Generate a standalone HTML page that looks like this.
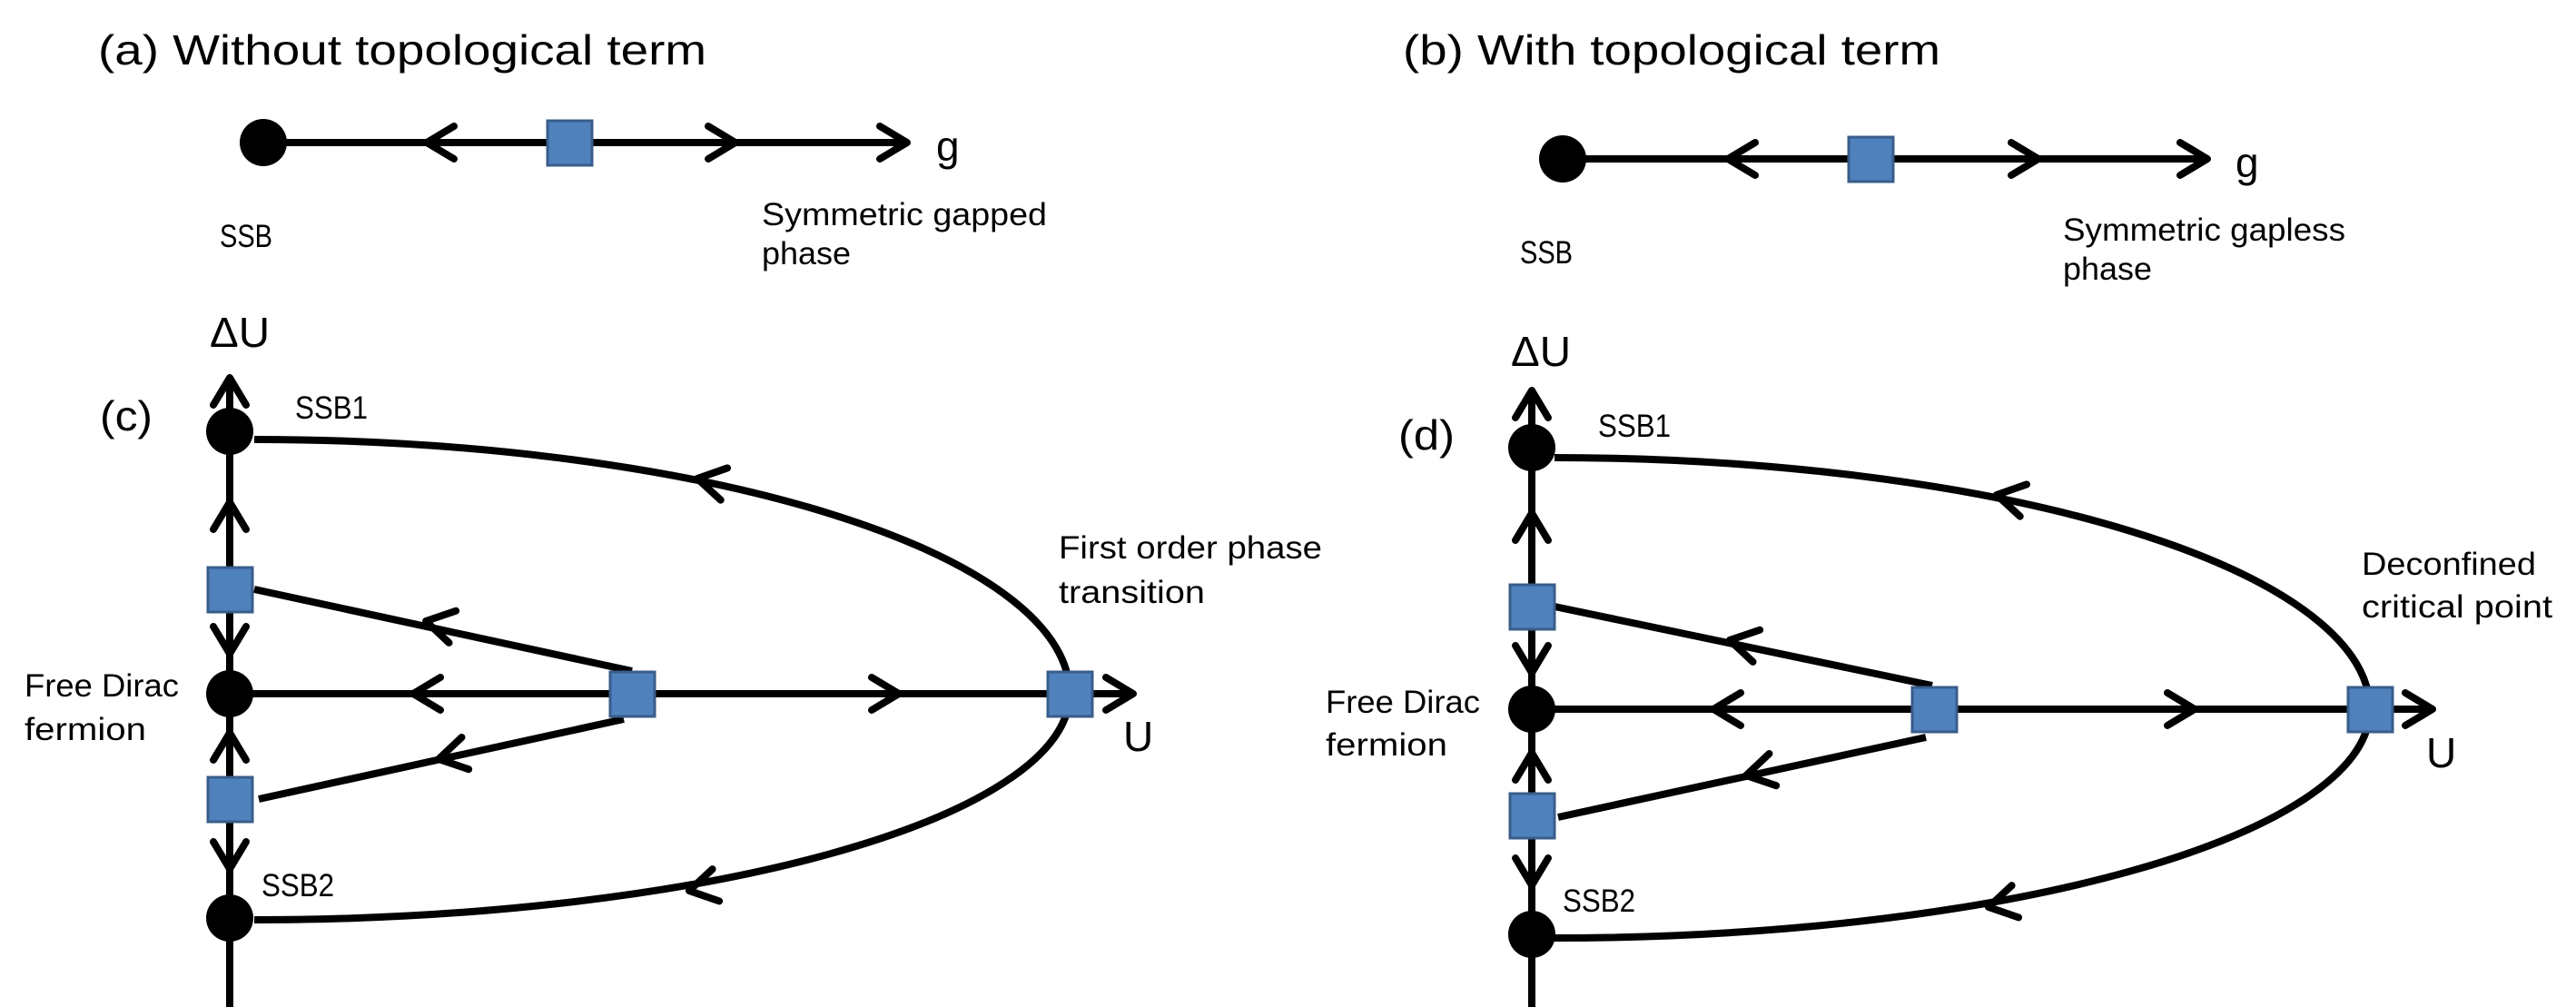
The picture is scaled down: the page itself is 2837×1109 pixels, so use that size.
<!DOCTYPE html>
<html><head><meta charset="utf-8"><style>
html,body{margin:0;padding:0;background:#fff;}
svg{display:block;}
text{font-family:"Liberation Sans",sans-serif;fill:#000;}
</style></head><body>
<svg width="2837" height="1109" viewBox="0 0 2837 1109" xmlns="http://www.w3.org/2000/svg">
<defs>
<polyline id="ch" points="-30,-18 0,0 -30,18" fill="none" stroke="#000" stroke-width="8" stroke-linecap="round" stroke-linejoin="round"/>
</defs>
<g stroke="#000" stroke-width="8" fill="none">
<!-- (a) -->
<line x1="290" y1="157" x2="995" y2="157"/>
<!-- (b) -->
<line x1="1721" y1="175" x2="2427" y2="175"/>
<!-- (c) -->
<line x1="253" y1="420" x2="253" y2="1109"/>
<line x1="253" y1="764" x2="1244" y2="764"/>
<line x1="280" y1="649" x2="696" y2="739"/>
<line x1="285" y1="880" x2="687" y2="792"/>
<path d="M280,484 A898,280 0 0 1 1178,764 A898,249 0 0 1 280,1013"/>
<!-- (d) -->
<line x1="1687" y1="434" x2="1687" y2="1109"/>
<line x1="1687" y1="781" x2="2675" y2="781"/>
<line x1="1712" y1="668" x2="2128" y2="755"/>
<line x1="1716" y1="900" x2="2121" y2="812"/>
<path d="M1712,504 A898,277 0 0 1 2610,781 A898,252 0 0 1 1712,1033"/>
</g>
<!-- chevrons -->
<use href="#ch" transform="translate(470,157) rotate(180)"/>
<use href="#ch" transform="translate(810,157)"/>
<use href="#ch" transform="translate(999,157)"/>
<use href="#ch" transform="translate(1903,175) rotate(180)"/>
<use href="#ch" transform="translate(2245,175)"/>
<use href="#ch" transform="translate(2431,175)"/>
<!-- c -->
<use href="#ch" transform="translate(253,416) rotate(-90)"/>
<use href="#ch" transform="translate(253,553) rotate(-90)"/>
<use href="#ch" transform="translate(253,720) rotate(90)"/>
<use href="#ch" transform="translate(253,807) rotate(-90)"/>
<use href="#ch" transform="translate(253,957) rotate(90)"/>
<use href="#ch" transform="translate(455,764) rotate(180)"/>
<use href="#ch" transform="translate(990,764)"/>
<use href="#ch" transform="translate(1248,764)"/>
<use href="#ch" transform="translate(469,684) rotate(192.2)"/>
<use href="#ch" transform="translate(483,836) rotate(167.7)"/>
<use href="#ch" transform="translate(768,527) rotate(191.7)"/>
<use href="#ch" transform="translate(759,981) rotate(168)"/>
<!-- d -->
<use href="#ch" transform="translate(1687,430) rotate(-90)"/>
<use href="#ch" transform="translate(1687,565) rotate(-90)"/>
<use href="#ch" transform="translate(1687,741) rotate(90)"/>
<use href="#ch" transform="translate(1687,829) rotate(-90)"/>
<use href="#ch" transform="translate(1687,975) rotate(90)"/>
<use href="#ch" transform="translate(1887,781) rotate(180)"/>
<use href="#ch" transform="translate(2417,781)"/>
<use href="#ch" transform="translate(2679,781)"/>
<use href="#ch" transform="translate(1905,705) rotate(192.2)"/>
<use href="#ch" transform="translate(1923,854) rotate(167.7)"/>
<use href="#ch" transform="translate(2199,545) rotate(191.7)"/>
<use href="#ch" transform="translate(2190,999) rotate(168)"/>
<!-- circles -->
<g fill="#000">
<circle cx="290" cy="157" r="26"/>
<circle cx="1721" cy="175" r="26"/>
<circle cx="253" cy="475" r="26"/>
<circle cx="253" cy="764" r="26"/>
<circle cx="253" cy="1011" r="26"/>
<circle cx="1687" cy="493" r="26"/>
<circle cx="1687" cy="781" r="26"/>
<circle cx="1687" cy="1029" r="26"/>
</g>
<!-- squares -->
<g fill="#4F81BD" stroke="#385D8A" stroke-width="3">
<rect x="603" y="133" width="49" height="49"/>
<rect x="2036" y="151" width="49" height="49"/>
<rect x="229" y="625" width="49" height="49"/>
<rect x="229" y="856" width="49" height="49"/>
<rect x="672" y="740" width="49" height="49"/>
<rect x="1154" y="740" width="49" height="49"/>
<rect x="1663" y="644" width="49" height="49"/>
<rect x="1663" y="874" width="49" height="49"/>
<rect x="2106" y="757" width="49" height="49"/>
<rect x="2586" y="757" width="49" height="49"/>
</g>
<!-- text -->
<text x="108" y="71" font-size="46" textLength="670" lengthAdjust="spacingAndGlyphs">(a) Without topological term</text>
<text x="1545" y="71" font-size="46" textLength="592" lengthAdjust="spacingAndGlyphs">(b) With topological term</text>
<text x="1031" y="177" font-size="46">g</text>
<text x="2462" y="195" font-size="46">g</text>
<text x="242" y="272" font-size="35" textLength="58" lengthAdjust="spacingAndGlyphs">SSB</text>
<text x="1674" y="290" font-size="35" textLength="58" lengthAdjust="spacingAndGlyphs">SSB</text>
<text x="839" y="248" font-size="35" textLength="314" lengthAdjust="spacingAndGlyphs">Symmetric gapped</text>
<text x="839" y="291" font-size="35" textLength="98" lengthAdjust="spacingAndGlyphs">phase</text>
<text x="2272" y="265" font-size="35" textLength="311" lengthAdjust="spacingAndGlyphs">Symmetric gapless</text>
<text x="2272" y="308" font-size="35" textLength="98" lengthAdjust="spacingAndGlyphs">phase</text>
<text x="231" y="382" font-size="46" textLength="66" lengthAdjust="spacingAndGlyphs">ΔU</text>
<text x="1664" y="403" font-size="46" textLength="66" lengthAdjust="spacingAndGlyphs">ΔU</text>
<text x="110" y="474" font-size="46" textLength="58" lengthAdjust="spacingAndGlyphs">(c)</text>
<text x="1540" y="495" font-size="46" textLength="62" lengthAdjust="spacingAndGlyphs">(d)</text>
<text x="325" y="461" font-size="35" textLength="80" lengthAdjust="spacingAndGlyphs">SSB1</text>
<text x="1760" y="481" font-size="35" textLength="80" lengthAdjust="spacingAndGlyphs">SSB1</text>
<text x="288" y="987" font-size="35" textLength="80" lengthAdjust="spacingAndGlyphs">SSB2</text>
<text x="1721" y="1004" font-size="35" textLength="80" lengthAdjust="spacingAndGlyphs">SSB2</text>
<text x="27" y="767" font-size="35" textLength="170" lengthAdjust="spacingAndGlyphs">Free Dirac</text>
<text x="27" y="815" font-size="35" textLength="134" lengthAdjust="spacingAndGlyphs">fermion</text>
<text x="1460" y="785" font-size="35" textLength="170" lengthAdjust="spacingAndGlyphs">Free Dirac</text>
<text x="1460" y="832" font-size="35" textLength="134" lengthAdjust="spacingAndGlyphs">fermion</text>
<text x="1237" y="827" font-size="46">U</text>
<text x="2672" y="845" font-size="46">U</text>
<text x="1166" y="615" font-size="35" textLength="290" lengthAdjust="spacingAndGlyphs">First order phase</text>
<text x="1166" y="664" font-size="35" textLength="161" lengthAdjust="spacingAndGlyphs">transition</text>
<text x="2601" y="633" font-size="35" textLength="192" lengthAdjust="spacingAndGlyphs">Deconfined</text>
<text x="2601" y="680" font-size="35" textLength="210" lengthAdjust="spacingAndGlyphs">critical point</text>
</svg>
</body></html>
